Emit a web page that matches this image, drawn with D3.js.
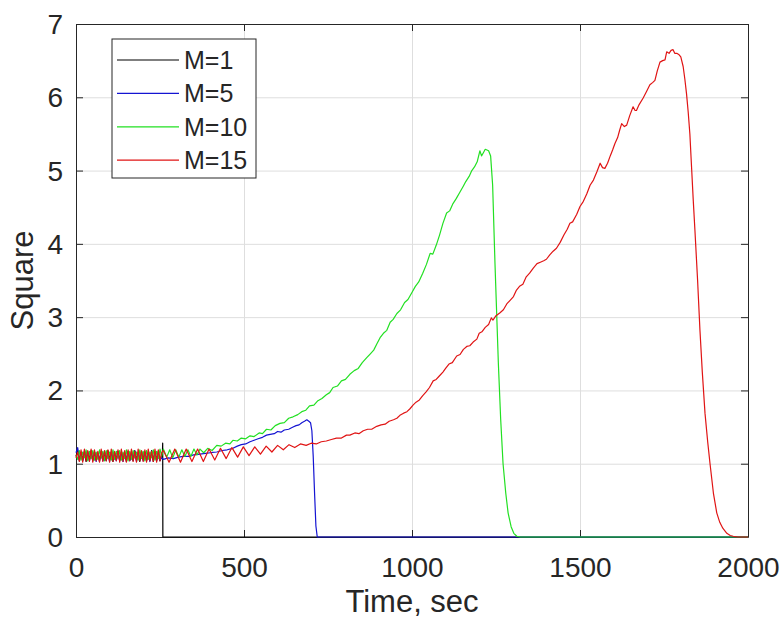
<!DOCTYPE html>
<html>
<head>
<meta charset="utf-8">
<script src="https://cdn.jsdelivr.net/npm/d3@7"></script>
<style>
  body { margin: 0; background: #fff; }
  text { font-family: "Liberation Sans", Arial, Helvetica, sans-serif; fill: #262626; }
</style>
</head>
<body>
<script>
// Square vs time for four values of M

//Define Margin
var margin = {left: 76, right: 33, top: 24, bottom: 84},
    width = 781 - margin.left - margin.right,
    height = 621 - margin.top - margin.bottom;

// axis ticks
var xTicks = [0, 500, 1000, 1500, 2000];
var yTicks = [0, 1, 2, 3, 4, 5, 6, 7];

var labels = ["M=1", "M=5", "M=10", "M=15"];
var colors = ["#000000", "#1414d2", "#22e022", "#e01414"];

// noisy start, one value every earlyStep sec from t=0
var earlyStep = 5;
var m1Early = [1.1,1.18,1.04,1.16,1.05,1.17,1.03,1.15,1.06,1.18,1.04,1.16,1.05,1.14,1.03,1.17,1.05,1.15,1.04,1.18,1.06,1.16,1.03,1.15,1.05,1.17,1.04,1.16,1.06,1.14,1.03,1.17,1.05,1.16,1.04,1.18,1.05,1.15,1.03,1.17,1.06,1.16,1.04,1.15,1.05,1.18,1.03,1.16,1.05,1.17,1.04,1.12];
var m5Early = [1.15,1.22,1.06,1.12,1.04,1.15,1.07,1.17,1.04,1.13,1.06,1.16,1.03,1.15,1.07,1.12,1.04,1.17,1.05,1.13,1.03,1.16,1.06,1.14,1.04,1.17,1.05,1.13,1.03,1.15,1.06,1.16,1.04,1.13,1.05,1.17,1.03,1.14,1.06,1.15,1.04,1.16,1.05,1.13,1.03,1.17,1.06,1.14,1.04,1.15,1.05,1.08];
var m10Early = [1.12,1.06,1.18,1.05,1.16,1.08,1.19,1.04,1.17,1.07,1.18,1.05,1.16,1.06,1.19,1.08,1.17,1.04,1.18,1.07,1.16,1.05,1.19,1.06,1.17,1.08,1.18,1.05,1.16,1.07,1.19,1.04,1.17,1.06,1.18,1.08,1.16,1.05,1.19,1.07,1.17,1.04,1.18,1.06,1.16,1.08,1.19,1.05,1.17,1.07,1.2,1.1];
var m15Early = [1.08,1.16,1.03,1.19,1.02,1.2,1.04,1.18,1.03,1.2,1.02,1.19,1.04,1.17,1.02,1.2,1.03,1.18,1.04,1.19,1.02,1.2,1.03,1.17,1.04,1.19,1.02,1.2,1.03,1.18,1.02,1.19,1.04,1.2,1.03,1.17,1.02,1.2,1.04,1.18,1.03,1.19,1.02,1.2,1.04,1.17,1.03,1.2,1.02,1.19,1.04,1.15];

// rest of each run as [time, square]
var m1Rest = [[257,1.1],[258,1.28],[258.5,0],[2000,0]];

var m5Rest = [[260,1.06],[275,1.08],[290,1.07],[305,1.09],[320,1.1],[335,1.1],[350,1.12],[369,1.13],[385,1.14],[400,1.15],[419,1.16],[435,1.18],[450,1.19],[467,1.21],[480,1.24],[492,1.26],[505,1.27],[518,1.3],[530,1.32],[542,1.34],[555,1.36],[567,1.39],[578,1.4],[590,1.41],[600,1.44],[610,1.43],[620,1.46],[633,1.47],[646,1.5],[655,1.52],[664,1.53],[672,1.56],[680,1.58],[687,1.6],[693,1.58],[698,1.56],[702,1.45],[706,1.1],[710,0.6],[714,0.15],[718,0],[2000,0]];

var m10Rest = [[260,1.2],[270,1.09],[279,1.19],[288,1.08],[297,1.19],[306,1.09],[315,1.19],[324,1.1],[333,1.19],[342,1.1],[351,1.2],[360,1.12],[369,1.2],[380,1.15],[392,1.21],[405,1.18],[419,1.25],[432,1.24],[445,1.28],[458,1.27],[467,1.32],[480,1.31],[492,1.35],[505,1.34],[518,1.38],[530,1.37],[545,1.42],[555,1.41],[567,1.47],[580,1.46],[593,1.52],[607,1.55],[620,1.56],[633,1.62],[646,1.64],[660,1.67],[672,1.71],[684,1.73],[695,1.79],[708,1.8],[720,1.86],[732,1.89],[745,1.94],[755,1.97],[765,2.04],[778,2.06],[790,2.13],[802,2.15],[815,2.22],[828,2.27],[840,2.3],[852,2.38],[866,2.45],[876,2.5],[886,2.55],[896,2.64],[905,2.72],[915,2.78],[925,2.82],[935,2.93],[944,2.97],[955,3.05],[966,3.1],[978,3.2],[988,3.24],[999,3.33],[1010,3.42],[1020,3.48],[1032,3.6],[1043,3.72],[1054,3.87],[1062,3.86],[1072,3.98],[1082,4.12],[1092,4.28],[1103,4.42],[1112,4.45],[1122,4.55],[1132,4.62],[1142,4.7],[1153,4.79],[1160,4.85],[1170,4.92],[1178,5.0],[1186,5.05],[1194,5.12],[1202,5.27],[1207,5.2],[1212,5.24],[1218,5.29],[1228,5.27],[1234,5.2],[1240,4.8],[1247,3.73],[1257,2.37],[1264,1.6],[1271,1.0],[1279,0.6],[1286,0.33],[1295,0.14],[1303,0.05],[1312,0.01],[1322,0],[2000,0]];

var m15Rest = [[260,1.18],[277,1.02],[294,1.2],[311,1.02],[328,1.2],[345,1.03],[362,1.2],[379,1.03],[396,1.2],[413,1.05],[430,1.21],[447,1.07],[464,1.22],[481,1.09],[498,1.23],[515,1.11],[532,1.23],[549,1.13],[566,1.24],[583,1.16],[600,1.25],[617,1.19],[634,1.26],[651,1.22],[668,1.27],[685,1.25],[700,1.28],[715,1.27],[730,1.3],[745,1.31],[760,1.33],[775,1.35],[790,1.35],[805,1.39],[815,1.39],[830,1.42],[842,1.41],[855,1.45],[868,1.47],[880,1.47],[895,1.51],[908,1.53],[920,1.54],[932,1.58],[945,1.6],[955,1.62],[964,1.66],[975,1.69],[985,1.71],[994,1.75],[1003,1.8],[1012,1.84],[1022,1.87],[1032,1.93],[1042,1.98],[1052,2.04],[1063,2.13],[1072,2.15],[1082,2.2],[1092,2.25],[1100,2.3],[1110,2.36],[1120,2.38],[1133,2.47],[1143,2.49],[1153,2.56],[1163,2.6],[1172,2.61],[1182,2.66],[1193,2.7],[1200,2.78],[1208,2.8],[1218,2.86],[1228,2.9],[1236,2.99],[1241,2.96],[1250,3.02],[1262,3.06],[1272,3.1],[1282,3.18],[1292,3.23],[1302,3.28],[1311,3.37],[1320,3.42],[1330,3.45],[1340,3.55],[1350,3.6],[1361,3.67],[1372,3.73],[1382,3.75],[1392,3.77],[1400,3.79],[1410,3.85],[1420,3.9],[1430,3.94],[1441,4.02],[1452,4.12],[1462,4.2],[1470,4.28],[1478,4.3],[1490,4.4],[1500,4.51],[1510,4.58],[1520,4.68],[1530,4.8],[1540,4.87],[1550,4.98],[1560,5.1],[1567,5.04],[1574,5.03],[1582,5.1],[1590,5.2],[1597,5.28],[1604,5.37],[1612,5.45],[1618,5.55],[1624,5.64],[1632,5.6],[1639,5.62],[1648,5.75],[1658,5.87],[1664,5.82],[1668,5.82],[1676,5.9],[1688,5.99],[1698,6.08],[1708,6.17],[1716,6.2],[1723,6.23],[1730,6.36],[1738,6.48],[1746,6.5],[1753,6.51],[1758,6.62],[1765,6.6],[1771,6.64],[1777,6.65],[1782,6.6],[1788,6.6],[1795,6.58],[1800,6.55],[1807,6.42],[1812,6.25],[1817,6.05],[1822,5.8],[1827,5.5],[1832,5.05],[1837,4.6],[1842,4.19],[1850,3.5],[1857,2.82],[1864,2.25],[1872,1.69],[1880,1.3],[1887,1.0],[1897,0.6],[1907,0.33],[1916,0.2],[1925,0.12],[1937,0.05],[1947,0.02],[1956,0.01],[1970,0],[2000,0]];

// join the noisy start and the rest of each run
function buildSeries(early, rest){
    var pts = early.map(function(v, i){ return [i * earlyStep, v]; });
    return pts.concat(rest);
}

var series = [
    buildSeries(m1Early, m1Rest),
    buildSeries(m5Early, m5Rest),
    buildSeries(m10Early, m10Rest),
    buildSeries(m15Early, m15Rest)
];

//Define SVG
var svg = d3.select("body").append("svg")
    .attr("width", width + margin.left + margin.right)
    .attr("height", height + margin.top + margin.bottom);

var g = svg.append("g")
    .attr("transform", "translate(" + margin.left + "," + margin.top + ")");

var x = d3.scaleLinear().domain([0, 2000]).range([0, width]);
var y = d3.scaleLinear().domain([0, 7]).range([height, 0]);

var fmt = d3.format("d");

// grid
g.append("g")
    .attr("class", "grid")
    .attr("transform", "translate(0," + height + ")")
    .call(d3.axisBottom(x).tickValues(xTicks).tickSize(-height).tickFormat(""));
g.append("g")
    .attr("class", "grid")
    .call(d3.axisLeft(y).tickValues(yTicks).tickSize(-width).tickFormat(""));
g.selectAll(".grid .domain").remove();
g.selectAll(".grid line").attr("stroke", "#dedede").attr("stroke-width", 1);

// axes, ticks pointing inward on all four sides
var xAxis = g.append("g")
    .attr("transform", "translate(0," + height + ")")
    .call(d3.axisBottom(x).tickValues(xTicks).tickFormat(fmt).tickSizeInner(-7).tickSizeOuter(0).tickPadding(20));
var yAxis = g.append("g")
    .call(d3.axisLeft(y).tickValues(yTicks).tickFormat(fmt).tickSizeInner(-7).tickSizeOuter(0).tickPadding(13));
var xTop = g.append("g")
    .call(d3.axisTop(x).tickValues(xTicks).tickSizeInner(-7).tickSizeOuter(0).tickFormat(""));
var yRight = g.append("g")
    .attr("transform", "translate(" + width + ",0)")
    .call(d3.axisRight(y).tickValues(yTicks).tickSizeInner(-7).tickSizeOuter(0).tickFormat(""));

[xAxis, yAxis, xTop, yRight].forEach(function(a){
    a.selectAll(".domain").attr("stroke", "#262626");
    a.selectAll(".tick line").attr("stroke", "#262626");
    a.selectAll("text")
        .attr("font-family", "Liberation Sans, Arial, sans-serif")
        .attr("font-size", 28)
        .attr("fill", "#262626");
});
yAxis.selectAll("text").attr("dy", "0.34em");

// lines
var line = d3.line()
    .x(function(d){ return x(d[0]); })
    .y(function(d){ return y(d[1]); });

g.selectAll(".series")
    .data(series)
    .enter().append("path")
    .attr("class", "series")
    .attr("d", line)
    .attr("fill", "none")
    .attr("stroke", function(d, i){ return colors[i]; })
    .attr("stroke-width", 1.2)
    .attr("stroke-linejoin", "round");

// axis titles
svg.append("text")
    .attr("x", margin.left + width / 2)
    .attr("y", 612)
    .attr("text-anchor", "middle")
    .attr("font-size", 31)
    .text("Time, sec");

svg.append("text")
    .attr("transform", "translate(33," + (margin.top + height / 2) + ") rotate(-90)")
    .attr("text-anchor", "middle")
    .attr("font-size", 31)
    .text("Square");

// legend
var legend = svg.append("g").attr("transform", "translate(112,39)");
legend.append("rect")
    .attr("width", 144)
    .attr("height", 139)
    .attr("fill", "#fff")
    .attr("stroke", "#262626")
    .attr("stroke-width", 1);

var items = legend.selectAll(".item")
    .data(labels)
    .enter().append("g")
    .attr("class", "item")
    .attr("transform", function(d, i){ return "translate(0," + (21 + i * 33.4) + ")"; });
items.append("line")
    .attr("x1", 5).attr("x2", 67)
    .attr("stroke", function(d, i){ return colors[i]; })
    .attr("stroke-width", 1.2);
items.append("text")
    .attr("x", 72)
    .attr("dy", "0.36em")
    .attr("font-size", 25)
    .text(function(d){ return d; });
</script>
</body>
</html>
